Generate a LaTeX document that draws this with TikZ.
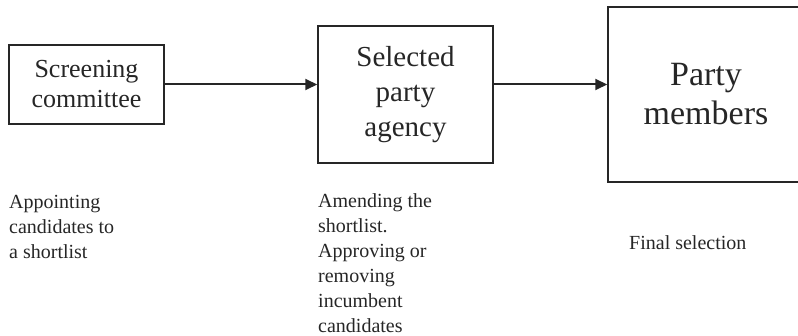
\documentclass[tikz,border=0pt]{standalone}
\usepackage{fontspec}
\setmainfont{Liberation Serif}
\usetikzlibrary{arrows.meta}
\begin{document}
\begin{tikzpicture}[x=1pt, y=-1pt,
    stage/.style={draw=black!85, line width=1.5pt, inner sep=0pt, align=center, text=black!85},
    note/.style={anchor=base west, align=left, inner sep=0pt, text=black!85, font=\fontsize{20}{25}\selectfont},
    flow/.style={-{Triangle[length=12pt,width=11pt]}, line width=2pt, draw=black!85}]
        \useasboundingbox (0,0) rectangle (798,336);

        % Three stages of the selection
        \node[stage, minimum width=155pt, minimum height=79pt, font=\fontsize{26}{30}\selectfont]
          (screening) at (86.5,84.5) {Screening\\committee};
        \node[stage, minimum width=175pt, minimum height=137pt, font=\fontsize{29}{35}\selectfont]
          (agency) at (405.5,94.5) {Selected\\party\\agency};
        \node[stage, minimum width=196pt, minimum height=175pt, font=\fontsize{34}{39}\selectfont]
          (members) at (706,94.5) {Party\\members};

        % Arrows between the stages
        \draw[flow] (screening.east) -- (agency.west |- screening.east);
        \draw[flow] (agency.east |- screening.east) -- (members.west |- screening.east);

        % Notes under the stages (base = last line)
        \node[note] (appoint) at (9,259) {Appointing\\candidates to\\a shortlist};
        \node[note] (amend) at (318,333) {Amending the\\shortlist.\\Approving or\\removing\\incumbent\\candidates};
        \node[note] (final) at (629,250) {Final selection};
      \end{tikzpicture}
\end{document}
